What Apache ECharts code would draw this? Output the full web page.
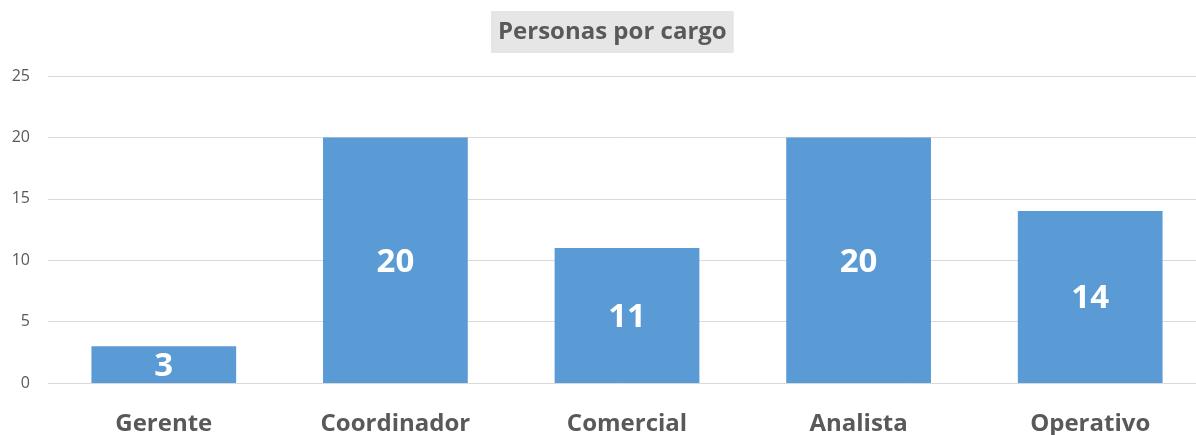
<!DOCTYPE html>
<html>
<head>
<meta charset="utf-8">
<script src="https://cdn.jsdelivr.net/npm/echarts@6/dist/echarts.min.js"></script>
<style>
html,body{margin:0;padding:0;background:#fff;}
#c{width:1196px;height:435px;}
</style>
</head>
<body>
<div id="c"></div>
<script>
const categories = ['Gerente', 'Coordinador', 'Comercial', 'Analista', 'Operativo'];
const values = [3, 20, 11, 20, 14];
const titleText = 'Personas por cargo';

const chart = echarts.init(document.getElementById('c'));
chart.setOption({
  animation: false,
  backgroundColor: '#ffffff',
  title: {
    text: titleText,
    left: 491,
    top: 11,
    backgroundColor: '#e6e6e6',
    padding: [7, 7, 7, 7],
    textStyle: {
      fontFamily: 'Open Sans',
      fontWeight: 'bold',
      fontSize: 24,
      color: '#595959',
      lineHeight: 28
    }
  },
  grid: { left: 48, width: 1158, top: 76, height: 307, containLabel: false, outerBoundsMode: 'none' },
  xAxis: {
    type: 'category',
    data: categories,
    axisLine: { show: false },
    axisTick: { show: false },
    axisLabel: {
      margin: 29,
      fontFamily: 'Open Sans',
      fontWeight: 'bold',
      fontSize: 24,
      color: '#595959'
    }
  },
  yAxis: {
    type: 'value',
    min: 0, max: 25, interval: 5,
    axisLine: { show: false },
    axisTick: { show: false },
    splitLine: { lineStyle: { color: '#d9d9d9', width: 1 } },
    axisLabel: {
      margin: 18,
      fontFamily: 'Open Sans',
      fontSize: 16,
      color: '#595959'
    }
  },
  series: [{
    type: 'bar',
    data: values,
    barWidth: '62.5%',
    itemStyle: { color: '#5b9bd5' },
    label: {
      show: true,
      position: 'inside',
      offset: [0, 2],
      fontFamily: 'Open Sans',
      fontWeight: 'bold',
      fontSize: 33,
      color: '#ffffff'
    }
  }]
});
</script>
</body>
</html>
